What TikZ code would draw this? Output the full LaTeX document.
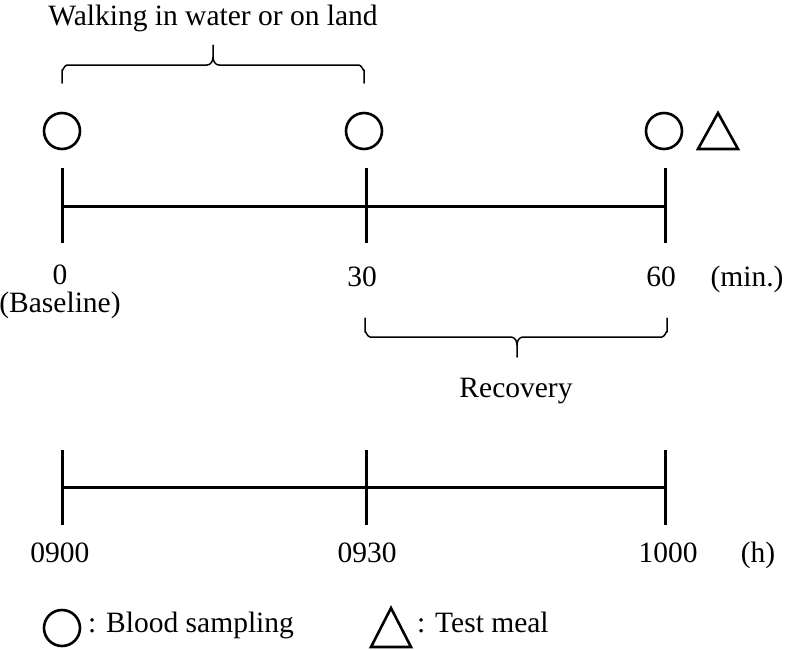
\documentclass[tikz,border=0pt]{standalone}
\usepackage{fontspec}
\setmainfont{Liberation Serif}
\begin{document}
\begin{tikzpicture}[x=1pt,y=-1pt,
  lbl/.style={anchor=base,inner sep=0pt,font=\fontsize{29.5}{35}\selectfont},
  axis/.style={line width=3pt},
  sample/.style={circle,draw,line width=2.6pt,minimum size=36pt,inner sep=0pt},
  brace/.style={line width=1.5pt,line cap=round,line join=round},
  tri/.style={line width=2.6pt,line join=miter}]
\useasboundingbox (0,0) rectangle (793,649);
% top timeline
\coordinate (a0) at (62,206);
\coordinate (a30) at (366,206);
\coordinate (a60) at (665,206);
\draw[axis] (a0) -- (a60);
\foreach \p in {a0,a30,a60} \draw[axis] (\p) ++(0,-38) -- ++(0,75);
% sampling circles
\node[sample] (c0) at (62,131) {};
\node[sample] (c30) at (364,131) {};
\node[sample] (c60) at (664,131) {};
% test meal triangle
\draw[tri] (698,149) -- (738,149) -- (718,113) -- cycle;
% top brace
\draw[brace] (62,83) -- (62,70) to[out=-90,in=180] (67,65) -- (207,65)
  to[out=0,in=-90] (213,57) -- (213,45) -- (213,57) to[out=-90,in=180] (219,65)
  -- (359,65) to[out=0,in=-90] (364,70) -- (364,83);
\node[lbl] (walk) at (213,25) {Walking in water or on land};
% top labels
\node[lbl,align=center,font=\fontsize{29.5}{28}\selectfont] (l0) at (60,312) {0\\(Baseline)};
\node[lbl] (l30) at (362,286) {30};
\node[lbl] (l60) at (661,286) {60};
\node[lbl] (min) at (747,286) {(min.)};
% bottom brace
\draw[brace] (365,318) -- (365,332) to[out=90,in=180] (370,337) -- (511,337)
  to[out=0,in=90] (517,345) -- (517,357) -- (517,345) to[out=90,in=180] (523,337)
  -- (662,337) to[out=0,in=90] (667,332) -- (667,318);
\node[lbl] (rec) at (516,397) {Recovery};
% bottom timeline
\coordinate (b0) at (62,487);
\coordinate (b30) at (366,487);
\coordinate (b60) at (665,487);
\draw[axis] (b0) -- (b60);
\foreach \p in {b0,b30,b60} \draw[axis] (\p) ++(0,-37) -- ++(0,75);
\node[lbl] (h0) at (60,562) {0900};
\node[lbl] (h30) at (367,562) {0930};
\node[lbl] (h60) at (668,562) {1000};
\node[lbl] (hh) at (758,562) {(h)};
% legend
\node[sample] (lc) at (62,628) {};
\node[lbl,anchor=base west] (lbs) at (88,632) {: Blood sampling};
\draw[tri] (371,647) -- (411,647) -- (391,608) -- cycle;
\node[lbl,anchor=base west] (ltm) at (417,632) {: Test meal};
\end{tikzpicture}
\end{document}
